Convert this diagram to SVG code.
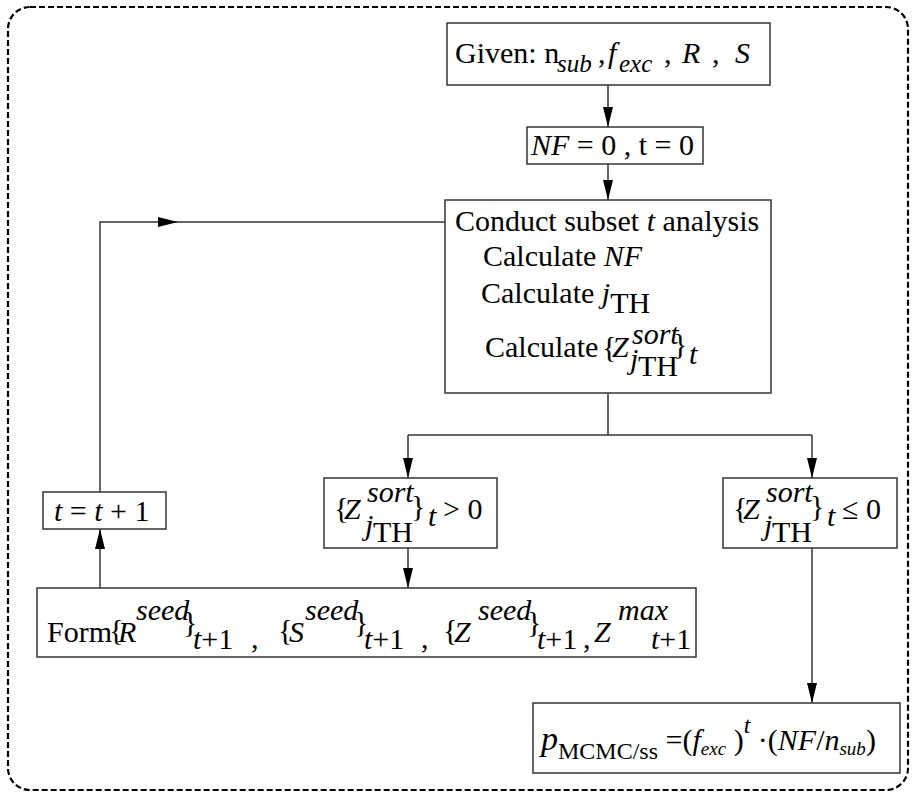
<svg xmlns="http://www.w3.org/2000/svg" width="914" height="797" viewBox="0 0 914 797">
<style>
.t{font-family:"Liberation Serif","Times New Roman",serif;font-size:30px;fill:#000}
.i{font-style:italic}
.box{fill:#fff;stroke:#333;stroke-width:1.5}
.c{fill:none;stroke:#333;stroke-width:1.5}
</style>
<defs>
<marker id="ah" markerUnits="userSpaceOnUse" markerWidth="20" markerHeight="10" refX="20" refY="5" orient="auto">
<path d="M0,0 L20,5 L0,10 z" fill="#000"/>
</marker>
</defs>
<rect x="8" y="7" width="900" height="783" rx="22" fill="none" stroke="#000" stroke-width="2.2" stroke-dasharray="6 3"/>
<g id="connectors">
<line class="c" x1="608" y1="85" x2="608" y2="127" marker-end="url(#ah)"/>
<line class="c" x1="608" y1="164" x2="608" y2="200" marker-end="url(#ah)"/>
<line class="c" x1="608" y1="393" x2="608" y2="435"/>
<line class="c" x1="408" y1="435" x2="812" y2="435"/>
<line class="c" x1="408" y1="435" x2="408" y2="478" marker-end="url(#ah)"/>
<line class="c" x1="812" y1="435" x2="812" y2="478" marker-end="url(#ah)"/>
<line class="c" x1="408" y1="548" x2="408" y2="588" marker-end="url(#ah)"/>
<line class="c" x1="100" y1="588" x2="100" y2="529" marker-end="url(#ah)"/>
<path class="c" d="M100,492 V222 H178" marker-end="url(#ah)"/>
<line class="c" x1="178" y1="222" x2="445" y2="222"/>
<line class="c" x1="812" y1="548" x2="812" y2="703" marker-end="url(#ah)"/>
</g>
<g id="given">
<rect class="box" x="447" y="23" width="323" height="62"/>
<text class="t" y="63" font-size="28"><tspan x="455">Given: n</tspan><tspan class="i" font-size="25" x="557" y="72">sub</tspan><tspan x="598" y="63">,</tspan><tspan class="i" x="608">f</tspan><tspan class="i" font-size="25" x="619" y="72">exc</tspan><tspan x="664" y="63">,</tspan><tspan class="i" x="682">R</tspan><tspan x="712">,</tspan><tspan class="i" x="735">S</tspan></text>
</g>
<g id="init">
<rect class="box" x="527" y="127" width="176" height="37"/>
<text class="t" x="531" y="155" font-size="28"><tspan class="i">NF</tspan> = 0 , t = 0</text>
</g>
<g id="conduct">
<rect class="box" x="445" y="200" width="326" height="193"/>
<text class="t" x="455" y="231">Conduct subset <tspan class="i">t</tspan> analysis</text>
<text class="t" x="483" y="266">Calculate <tspan class="i">NF</tspan></text>
<text class="t" x="481" y="303">Calculate <tspan class="i">j</tspan><tspan dy="10">TH</tspan></text>
<text class="t" x="485" y="357">Calculate</text>
<text class="t" x="602" y="357" font-size="28">{</text>
<text class="t i" x="612" y="357" font-size="34">Z</text>
<text class="t i" x="632" y="344" font-size="24">sort</text>
<text class="t i" x="630" y="369" font-size="28">j</text>
<text class="t" x="638" y="376" font-size="28">TH</text>
<text class="t" x="673" y="354" font-size="28">}</text>
<text class="t i" x="689" y="364" font-size="24">t</text>
</g>
<g id="positive">
<rect class="box" x="324" y="478" width="173" height="70"/>
<text class="t" x="334" y="518" font-size="28">{</text>
<text class="t i" x="344" y="519" font-size="36">Z</text>
<text class="t i" x="367" y="502" font-size="26">sort</text>
<text class="t i" x="365" y="535" font-size="28">j</text>
<text class="t" x="373" y="542" font-size="28">TH</text>
<text class="t" x="411" y="516" font-size="28">}</text>
<text class="t i" x="428" y="526" font-size="24">t</text>
<text class="t" x="443" y="519" font-size="32">&gt; 0</text>
</g>
<g id="nonpositive">
<rect class="box" x="723" y="478" width="174" height="70"/>
<text class="t" x="733" y="518" font-size="28">{</text>
<text class="t i" x="743" y="519" font-size="36">Z</text>
<text class="t i" x="766" y="502" font-size="26">sort</text>
<text class="t i" x="764" y="535" font-size="28">j</text>
<text class="t" x="772" y="542" font-size="28">TH</text>
<text class="t" x="810" y="516" font-size="28">}</text>
<text class="t i" x="827" y="526" font-size="24">t</text>
<text class="t" x="842" y="519" font-size="32">≤ 0</text>
</g>
<g id="form">
<rect class="box" x="37" y="588" width="659" height="69"/>
<text class="t" x="47" y="642" font-size="25">Form</text>
<text class="t" x="109" y="640" font-size="26">{</text>
<text class="t i" x="118" y="642" font-size="32">R</text>
<text class="t i" x="136" y="620" font-size="27">seed</text>
<text class="t" x="183" y="632" font-size="26">}</text>
<text class="t" x="193" y="649" font-size="27"><tspan class="i">t</tspan>+1</text>
<text class="t" x="251" y="648">,</text>
<text class="t" x="278" y="640" font-size="26">{</text>
<text class="t i" x="289" y="642" font-size="32">S</text>
<text class="t i" x="305" y="620" font-size="27">seed</text>
<text class="t" x="354" y="632" font-size="26">}</text>
<text class="t" x="364" y="649" font-size="27"><tspan class="i">t</tspan>+1</text>
<text class="t" x="421" y="648">,</text>
<text class="t" x="443" y="640" font-size="26">{</text>
<text class="t i" x="454" y="642" font-size="32">Z</text>
<text class="t i" x="478" y="620" font-size="27">seed</text>
<text class="t" x="527" y="632" font-size="26">}</text>
<text class="t" x="537" y="649" font-size="27"><tspan class="i">t</tspan>+1</text>
<text class="t" x="583" y="648">,</text>
<text class="t i" x="594" y="642" font-size="32">Z</text>
<text class="t i" x="618" y="620" font-size="27">max</text>
<text class="t" x="651" y="649" font-size="27"><tspan class="i">t</tspan>+1</text>
</g>
<g id="increment">
<rect class="box" x="43" y="492" width="123" height="37"/>
<text class="t" x="54" y="521" font-size="28"><tspan class="i">t</tspan> = <tspan class="i">t</tspan> + 1</text>
</g>
<g id="result">
<rect class="box" x="533" y="703" width="367" height="70"/>
<text class="t" x="541" y="750" font-size="32"><tspan class="i" font-size="34">p</tspan><tspan font-size="24" dy="9">MCMC/ss</tspan><tspan dy="-9"> =(</tspan><tspan class="i">f</tspan><tspan class="i" font-size="19" dy="5">exc</tspan><tspan dy="-5"> )</tspan><tspan class="i" font-size="24" dy="-17">t</tspan><tspan dy="17"> ·(</tspan><tspan class="i">NF</tspan>/<tspan class="i">n</tspan><tspan class="i" font-size="19" dy="5">sub</tspan><tspan dy="-5">)</tspan></text>
</g>
</svg>
